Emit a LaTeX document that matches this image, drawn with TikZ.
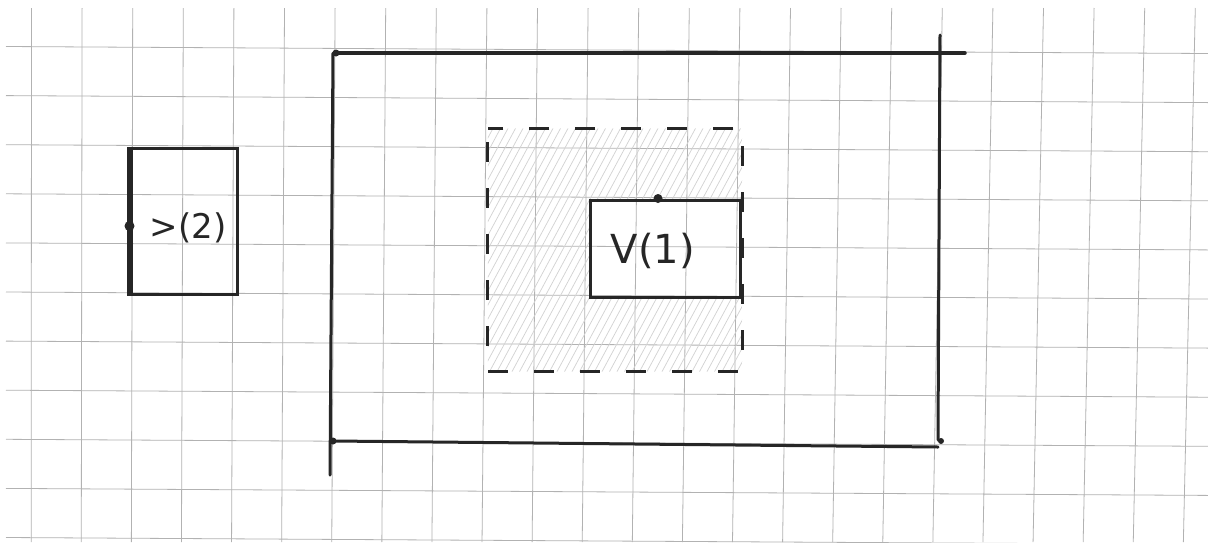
\documentclass[tikz,border=0pt]{standalone}
\usepackage{fontspec}
\setmainfont{DejaVu Sans}
\begin{document}
\begin{tikzpicture}[x=1pt,y=-1pt,
  gridline/.style={gray!60,line width=0.8pt},
  pen/.style={black!85,line width=3pt,line cap=round},
  hatch/.style={gray!35,line width=0.7pt},
  dotmark/.style={circle,fill=black!85,inner sep=0pt,minimum size=9pt},
  dashedpen/.style={black!85,line width=3pt,dash pattern=on 20pt off 26pt,dash phase=-14pt},
  boxnode/.style={draw=black!85,line width=3pt,inner sep=0pt}]
\useasboundingbox (0,0) rectangle (1208,542);
\fill[white] (0,0) rectangle (1208,542);
% grid paper
\foreach \k in {0,...,23} {
  \pgfmathsetmacro\xx{31.5+50.6*\k}
  \pgfmathsetmacro\xb{\xx*0.99}
  \draw[gridline] (\xx,8) -- (\xb,542);
}
\foreach \k in {0,...,10} {
  \pgfmathsetmacro\yy{46.5+49.1*\k}
  \pgfmathsetmacro\yb{\yy+7}
  \draw[gridline] (6,\yy) -- (1208,\yb);
}
% hatched dashed square
\node[minimum width=254pt,minimum height=243pt,inner sep=0pt] (ds) at (615,250) {};
\node[minimum width=150pt,minimum height=97pt,inner sep=0pt] (vbarea) at (665,248.5) {};
\begin{scope}[even odd rule]
  \clip (ds.north west) rectangle (ds.south east) (vbarea.north west) rectangle (vbarea.south east);
  \foreach \k in {-20,...,50} \draw[hatch] (440+\k*7.5,380) -- ++(140,-260);
\end{scope}
\draw[dashedpen] (ds.north west) rectangle (ds.south east);
% V(1) box
\node[boxnode,minimum width=150pt,minimum height=97pt] (vb) at (665,248.5) {};
\node[font=\fontsize{40}{44}\selectfont,text=black!85,inner sep=0pt] (vtext) at (653,251) {V(1)};
\node[dotmark] (vbdot) at ([xshift=-7pt]vb.north) {};
% left box
\node[boxnode,minimum width=106pt,minimum height=146pt] (lb) at (184,221) {};
\node[font=\fontsize{34}{38}\selectfont,text=black!85,inner sep=0pt] (ltext) at (188,228) {>(2)};
\draw[black!85,line width=5pt] (lb.north west) -- (lb.south west);
\node[dotmark,minimum size=10pt] (lbdot) at ([yshift=-5pt]lb.west) {};
% big frame
\coordinate (tl) at (336,53);
\coordinate (tr) at (965,53);
\coordinate (rt) at (940,35);
\coordinate (rb) at (938,440);
\coordinate (bl) at (333,441);
\coordinate (br) at (938,447);
\coordinate (lt) at (333,53);
\coordinate (lbot) at (330,475);
\draw[pen,line width=3.5pt] (tl) -- (tr);
\draw[pen] (rt) -- (rb);
\draw[pen] (bl) -- (br);
\draw[pen] (lt) -- (lbot);
\node[dotmark,minimum size=7pt] (d1) at (tl) {};
\node[dotmark,minimum size=7pt] (d2) at (bl) {};
\node[dotmark,minimum size=6pt] (d3) at (941,441) {};
\end{tikzpicture}
\end{document}
